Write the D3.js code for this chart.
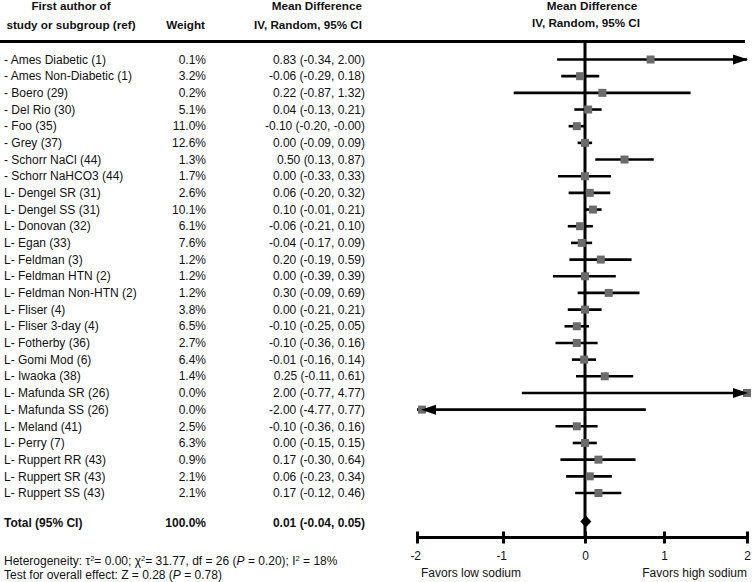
<!DOCTYPE html>
<html>
<head>
<meta charset="utf-8">
<script src="https://cdn.jsdelivr.net/npm/d3@7"></script>
<style>
  html, body { margin: 0; padding: 0; background: #fff; overflow: hidden; }
  svg { display: block; font-family: "Liberation Sans", Arial, sans-serif; }
</style>
</head>
<body>
<svg id="chart" width="752" height="582"></svg>
<script>
// ---------- data ----------
const studies = [
  "- Ames Diabetic (1)", "- Ames Non-Diabetic (1)", "- Boero (29)", "- Del Rio (30)",
  "- Foo (35)", "- Grey (37)", "- Schorr NaCl (44)", "- Schorr NaHCO3 (44)",
  "L- Dengel SR (31)", "L- Dengel SS (31)", "L- Donovan (32)", "L- Egan (33)",
  "L- Feldman (3)", "L- Feldman HTN (2)", "L- Feldman Non-HTN (2)", "L- Fliser (4)",
  "L- Fliser 3-day (4)", "L- Fotherby (36)", "L- Gomi Mod (6)", "L- Iwaoka (38)",
  "L- Mafunda SR (26)", "L- Mafunda SS (26)", "L- Meland (41)", "L- Perry (7)",
  "L- Ruppert RR (43)", "L- Ruppert SR (43)", "L- Ruppert SS (43)"
];
const weights = [0.1, 3.2, 0.2, 5.1, 11.0, 12.6, 1.3, 1.7, 2.6, 10.1, 6.1, 7.6, 1.2, 1.2, 1.2, 3.8,
  6.5, 2.7, 6.4, 1.4, 0.0, 0.0, 2.5, 6.3, 0.9, 2.1, 2.1];
const meanDiff = [0.83, -0.06, 0.22, 0.04, -0.10, 0.00, 0.50, 0.00, 0.06, 0.10, -0.06, -0.04, 0.20, 0.00,
  0.30, 0.00, -0.10, -0.10, -0.01, 0.25, 2.00, -2.00, -0.10, 0.00, 0.17, 0.06, 0.17];
const ciLower = [-0.34, -0.29, -0.87, -0.13, -0.20, -0.09, 0.13, -0.33, -0.20, -0.01, -0.21, -0.17, -0.19,
  -0.39, -0.09, -0.21, -0.25, -0.36, -0.16, -0.11, -0.77, -4.77, -0.36, -0.15, -0.30, -0.23, -0.12];
const ciUpper = [2.00, 0.18, 1.32, 0.21, -0.00, 0.09, 0.87, 0.33, 0.32, 0.21, 0.10, 0.09, 0.59, 0.39, 0.69,
  0.21, 0.05, 0.16, 0.14, 0.61, 4.77, 0.77, 0.16, 0.15, 0.64, 0.34, 0.46];
const totalLabel = "Total (95% CI)";
const totalWeight = 100.0;
const totalMD = 0.01, totalLower = -0.04, totalUpper = 0.05;
const axisTicks = [-2, -1, 0, 1, 2];
const favorsLabels = ["Favors low sodium", "Favors high sodium"];

// ---------- helpers ----------
const f2 = v => (Object.is(v, -0) || (v < 0) ? "-" : "") + Math.abs(v).toFixed(2);
const ciText = (m, l, u) => `${f2(m)} (${f2(l)}, ${f2(u)})`;

const svg = d3.select("#chart");
const FS = 12;
const HFS = 11.7;

// scales
const x = d3.scaleLinear().domain([-2, -1, 0, 1, 2]).range([417, 503, 585, 664, 747]);
const y = d3.scaleLinear().domain([0, studies.length - 1]).range([59.5, 493]);
const yTotal = 521.5;
const yAxis = 537.5;

// ---------- header ----------
const hdr = svg.append("g").attr("font-weight", "bold").attr("font-size", HFS).attr("fill", "#111");
hdr.append("text").attr("x", 71).attr("y", 10).attr("text-anchor", "middle").text("First author of");
hdr.append("text").attr("x", 71).attr("y", 29).attr("text-anchor", "middle").text("study or subgroup (ref)");
hdr.append("text").attr("x", 205).attr("y", 29).attr("text-anchor", "end").text("Weight");
hdr.append("text").attr("x", 362).attr("y", 10).attr("text-anchor", "end").text("Mean Difference");
hdr.append("text").attr("x", 362).attr("y", 29).attr("text-anchor", "end").text("IV, Random, 95% CI");
hdr.append("text").attr("x", 592).attr("y", 10).attr("text-anchor", "middle").text("Mean Difference");
hdr.append("text").attr("x", 586).attr("y", 27).attr("text-anchor", "middle").text("IV, Random, 95% CI");

svg.append("line").attr("x1", 0).attr("x2", 745).attr("y1", 41.5).attr("y2", 41.5)
  .attr("stroke", "#000").attr("stroke-width", 3);

// ---------- table ----------
const rows = svg.append("g").attr("font-size", FS).attr("fill", "#111");
const idx = d3.range(studies.length);
rows.selectAll("text.name").data(idx).join("text").attr("class", "name")
  .attr("x", 4).attr("y", i => y(i)).attr("dy", "0.35em").text(i => studies[i]);
rows.selectAll("text.w").data(idx).join("text").attr("class", "w")
  .attr("x", 206).attr("y", i => y(i)).attr("dy", "0.35em").attr("text-anchor", "end")
  .text(i => weights[i].toFixed(1) + "%");
rows.selectAll("text.md").data(idx).join("text").attr("class", "md")
  .attr("x", 365).attr("y", i => y(i)).attr("dy", "0.35em").attr("text-anchor", "end")
  .text(i => ciText(meanDiff[i], ciLower[i], ciUpper[i]));

const tot = svg.append("g").attr("font-size", FS).attr("font-weight", "bold").attr("fill", "#111");
tot.append("text").attr("x", 4).attr("y", yTotal + 1.5).attr("dy", "0.35em").text(totalLabel);
tot.append("text").attr("x", 206).attr("y", yTotal + 1.5).attr("dy", "0.35em").attr("text-anchor", "end")
  .text(totalWeight.toFixed(1) + "%");
tot.append("text").attr("x", 365).attr("y", yTotal + 1.5).attr("dy", "0.35em").attr("text-anchor", "end")
  .text(ciText(totalMD, totalLower, totalUpper));

// ---------- forest plot ----------
const [xmin, xmax] = [x.domain()[0], x.domain()[x.domain().length - 1]];
const clamp = v => Math.max(xmin, Math.min(xmax, v));

// zero line
svg.append("line").attr("x1", x(0)).attr("x2", x(0)).attr("y1", 41.5).attr("y2", yAxis)
  .attr("stroke", "#000").attr("stroke-width", 3);

const plot = svg.append("g");
plot.selectAll("line.ci").data(idx).join("line").attr("class", "ci")
  .attr("x1", i => x(clamp(ciLower[i]))).attr("x2", i => x(clamp(ciUpper[i])))
  .attr("y1", i => y(i)).attr("y2", i => y(i))
  .attr("stroke", "#000").attr("stroke-width", 2.6);

const bs = 8;
plot.selectAll("rect.box").data(idx).join("rect").attr("class", "box")
  .attr("x", i => x(clamp(meanDiff[i])) - bs / 2 + (meanDiff[i] <= xmin ? 5 : 0))
  .attr("y", i => y(i) - bs / 2)
  .attr("width", bs).attr("height", bs).attr("fill", "#6b6b6b");

// arrows where CI reaches the edge
const rightArrows = idx.filter(i => ciUpper[i] >= xmax);
const leftArrows = idx.filter(i => ciLower[i] <= xmin);
plot.selectAll("path.ra").data(rightArrows).join("path").attr("class", "ra")
  .attr("d", i => { const tx = x(xmax) + 1, ty = y(i); return `M${tx},${ty} L${tx - 15},${ty - 5} L${tx - 15},${ty + 5} Z`; })
  .attr("fill", "#000");
plot.selectAll("path.la").data(leftArrows).join("path").attr("class", "la")
  .attr("d", i => { const tx = x(xmin) + 4, ty = y(i); return `M${tx},${ty} L${tx + 15},${ty - 5} L${tx + 15},${ty + 5} Z`; })
  .attr("fill", "#000");

// total diamond
plot.append("path")
  .attr("d", () => {
    const l = Math.min(x(totalLower), x(totalMD) - 5.5), r = Math.max(x(totalUpper), x(totalMD) + 5.5), c = x(totalMD);
    return `M${l},${yTotal} L${c},${yTotal - 6} L${r},${yTotal} L${c},${yTotal + 6} Z`;
  })
  .attr("fill", "#000");

// axis
const axisG = svg.append("g").attr("transform", `translate(0,${yAxis})`)
  .call(d3.axisBottom(x).tickValues(axisTicks).tickFormat(d => String(d)).tickSize(6).tickSizeOuter(0));
axisG.select(".domain").attr("stroke", "#000").attr("stroke-width", 3).attr("d", `M${x(xmin)},0H${x(xmax)}`);
axisG.selectAll(".tick line").attr("y1", -6).attr("y2", 6).attr("stroke", "#000").attr("stroke-width", 3);
axisG.selectAll(".tick text").attr("y", 14).attr("font-size", FS).attr("font-family", "Liberation Sans, Arial, sans-serif").attr("fill", "#111");
axisG.selectAll(".tick text").filter(d => d < 0).attr("dx", "-0.15em");

svg.append("text").attr("x", 421).attr("y", 573).attr("dy", "0.35em").attr("font-size", FS).attr("fill", "#111").text(favorsLabels[0]);
svg.append("text").attr("x", 747).attr("y", 573).attr("dy", "0.35em").attr("text-anchor", "end").attr("font-size", FS).attr("fill", "#111").text(favorsLabels[1]);

// ---------- footer ----------
const het = svg.append("text").attr("x", 4).attr("y", 565).attr("font-size", FS).attr("fill", "#111");
het.append("tspan").text("Heterogeneity: τ");
het.append("tspan").attr("font-size", 7.5).attr("dy", -4.5).text("2");
het.append("tspan").attr("dy", 4.5).text("= 0.00; χ");
het.append("tspan").attr("font-size", 7.5).attr("dy", -4.5).text("2");
het.append("tspan").attr("dy", 4.5).text("= 31.77, df = 26 (");
het.append("tspan").attr("font-style", "italic").text("P");
het.append("tspan").text(" = 0.20); I");
het.append("tspan").attr("font-size", 7.5).attr("dy", -4.5).text("2");
het.append("tspan").attr("dy", 4.5).text(" = 18%");

const tst = svg.append("text").attr("x", 4).attr("y", 579).attr("font-size", FS).attr("fill", "#111");
tst.append("tspan").text("Test for overall effect: Z = 0.28 (");
tst.append("tspan").attr("font-style", "italic").text("P");
tst.append("tspan").text(" = 0.78)");
</script>
</body>
</html>
